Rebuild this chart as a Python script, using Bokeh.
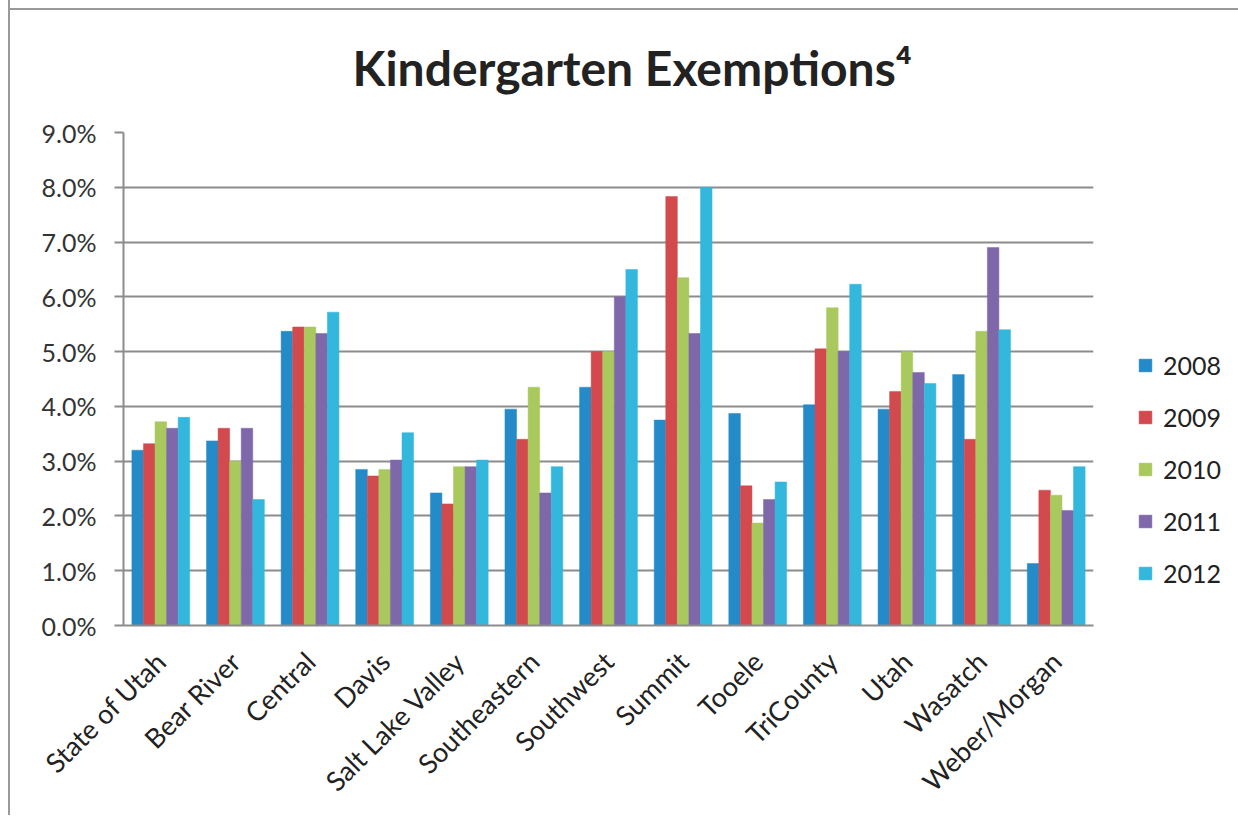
from bokeh.plotting import figure
from bokeh.models import ColumnDataSource, FactorRange, Legend, LegendItem, NumeralTickFormatter, FixedTicker
from bokeh.transform import dodge
from bokeh.embed import file_html
from bokeh.resources import INLINE
import math

regions = ["State of Utah", "Bear River", "Central", "Davis", "Salt Lake Valley",
           "Southeastern", "Southwest", "Summit", "Tooele", "TriCounty", "Utah",
           "Wasatch", "Weber/Morgan"]
years = ["2008", "2009", "2010", "2011", "2012"]
v2008 = [3.20, 3.37, 5.37, 2.85, 2.42, 3.95, 4.35, 3.75, 3.87, 4.03, 3.95, 4.58, 1.13]
v2009 = [3.32, 3.60, 5.45, 2.73, 2.22, 3.40, 5.00, 7.83, 2.55, 5.05, 4.27, 3.40, 2.47]
v2010 = [3.72, 3.00, 5.45, 2.85, 2.90, 4.35, 5.00, 6.35, 1.87, 5.80, 5.00, 5.37, 2.38]
v2011 = [3.60, 3.60, 5.33, 3.02, 2.90, 2.42, 6.00, 5.33, 2.30, 5.00, 4.62, 6.90, 2.10]
v2012 = [3.80, 2.30, 5.72, 3.52, 3.02, 2.90, 6.50, 8.00, 2.62, 6.23, 4.42, 5.40, 2.90]
colors = ["#258AC8", "#D24A4D", "#A9C95E", "#7E68AA", "#33B7DC"]
y_ticks = [0.00, 0.01, 0.02, 0.03, 0.04, 0.05, 0.06, 0.07, 0.08, 0.09]

series = [v2008, v2009, v2010, v2011, v2012]
data = {"region": regions}
for yr, vals in zip(years, series):
    data[yr] = [v / 100.0 for v in vals]
source = ColumnDataSource(data)

FONT = "Lato"

p = figure(x_range=FactorRange(*regions), y_range=(0, 0.09),
           frame_width=970, frame_height=493,
           output_backend="svg", toolbar_location=None,
           min_border_left=113, min_border_right=137, min_border_top=121, min_border_bottom=190,
           title="Kindergarten Exemptions\u2074")
p.border_fill_color = None
p.styles = {"margin-left": "8px",
            "border-left": "2px solid #999999",
            "background": "linear-gradient(#999999, #999999) 0px 8px / 100% 2px no-repeat, #ffffff"}

p.title.text_font = FONT
p.title.text_font_size = "48px"
p.title.text_font_style = "bold"
p.title.text_color = "#222222"
p.title.align = "left"
p.title.offset = 229
p.title.standoff = 73

width = 0.155
offsets = [-0.31, -0.155, 0.0, 0.155, 0.31]
renderers = []
for yr, col, off in zip(years, colors, offsets):
    r = p.vbar(x=dodge("region", off, range=p.x_range), top=yr, width=width,
               source=source, fill_color=col, line_color=col, line_width=0.5)
    renderers.append(r)

legend = Legend(items=[LegendItem(label=yr, renderers=[r]) for yr, r in zip(years, renderers)],
                location=(44, 37))
legend.label_text_font = FONT
legend.label_text_font_size = "25px"
legend.label_text_color = "#222222"
legend.glyph_width = 16
legend.glyph_height = 16
legend.label_height = 25
legend.spacing = 22
legend.label_standoff = 10
legend.border_line_color = None
legend.background_fill_alpha = 0
legend.margin = 0
legend.padding = 0
p.add_layout(legend, "right")

p.yaxis.ticker = FixedTicker(ticks=y_ticks)
p.yaxis.formatter = NumeralTickFormatter(format="0.0%")
p.yaxis.major_label_text_font = FONT
p.yaxis.major_label_text_font_size = "25px"
p.yaxis.major_label_text_color = "#333333"
p.yaxis.axis_line_color = "#8c8c8c"
p.yaxis.axis_line_width = 2
p.yaxis.major_tick_line_color = "#8c8c8c"
p.yaxis.major_tick_line_width = 2
p.yaxis.major_tick_out = 9
p.yaxis.major_tick_in = 0
p.yaxis.minor_tick_line_color = None
p.yaxis.major_label_standoff = 18

p.xaxis.major_label_orientation = math.pi / 4
p.xaxis.major_label_text_font = FONT
p.xaxis.major_label_text_font_size = "27px"
p.xaxis.major_label_text_color = "#222222"
p.xaxis.axis_line_color = "#8c8c8c"
p.xaxis.axis_line_width = 2
p.xaxis.major_tick_line_color = None
p.xaxis.minor_tick_line_color = None
p.xaxis.major_label_standoff = 25

p.xgrid.grid_line_color = None
p.ygrid.grid_line_color = "#8c8c8c"
p.ygrid.grid_line_width = 2
p.outline_line_color = None
p.x_range.range_padding = 0
p.x_range.group_padding = 0
p.x_range.factor_padding = 0

open("out.html", "w").write(file_html(p, INLINE))
